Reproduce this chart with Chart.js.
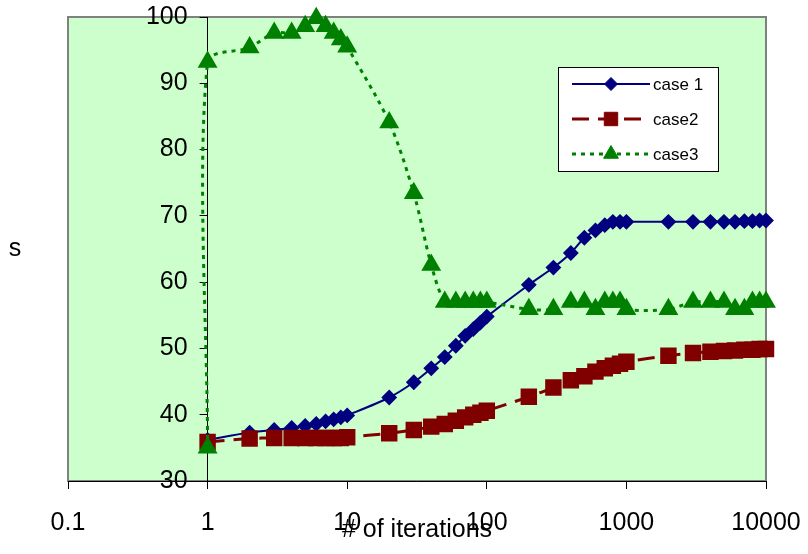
<!DOCTYPE html>
<html>
<head>
<meta charset="utf-8">
<script src="https://cdn.jsdelivr.net/npm/chart.js@4/dist/chart.umd.min.js"></script>
<style>
  html, body { margin: 0; padding: 0; background: #fff; }
</style>
</head>
<body>
<canvas id="iterations_chart" width="808" height="554"></canvas>
<script>
// data
const xTicks = [0.1, 1, 10, 100, 1000, 10000];
const yCrossAt = 1;
const xTitle = '# of iterations';
const yTitle = 's';
const seriesNames = ['case 1', 'case2', 'case3'];

const iterations = [1, 2, 3, 4, 5, 6, 7, 8, 9, 10, 20, 30, 40, 50, 60, 70, 80, 90, 100,
  200, 300, 400, 500, 600, 700, 800, 900, 1000, 2000, 3000, 4000, 5000, 6000, 7000, 8000, 9000, 10000];
const case1 = [36.2, 37.3, 37.7, 38.0, 38.3, 38.6, 39.0, 39.3, 39.6, 39.9, 42.6, 44.9, 47.0, 48.7, 50.4, 51.9, 52.9, 53.9, 54.8,
  59.6, 62.2, 64.4, 66.7, 67.8, 68.6, 69.1, 69.1, 69.1, 69.1, 69.1, 69.1, 69.1, 69.1, 69.2, 69.2, 69.3, 69.3];
const case2 = [35.9, 36.4, 36.5, 36.5, 36.5, 36.5, 36.5, 36.5, 36.5, 36.6, 37.2, 37.7, 38.2, 38.6, 39.1, 39.6, 40.0, 40.3, 40.6,
  42.7, 44.1, 45.2, 45.8, 46.5, 47.0, 47.4, 47.7, 48.0, 48.9, 49.3, 49.5, 49.6, 49.7, 49.8, 49.8, 49.9, 49.9];

const iterations3 = [1, 1, 2, 3, 4, 5, 6, 7, 8, 9, 10, 20, 30, 40, 50, 60, 70, 80, 90, 100,
  200, 300, 400, 500, 600, 700, 800, 900, 1000, 2000, 3000, 4000, 5000, 6000, 7000, 8000, 9000, 10000];
const case3 = [35.0, 93.2, 95.4, 97.6, 97.6, 98.6, 99.8, 98.6, 97.6, 96.6, 95.5, 84.1, 73.4, 62.6, 57.0, 57.0, 57.0, 57.0, 57.0, 57.0,
  55.9, 55.9, 57.0, 57.0, 55.9, 57.0, 57.0, 57.0, 55.9, 55.9, 57.0, 57.0, 57.0, 55.9, 55.9, 57.0, 57.0, 57.0];

const FONT = '"Liberation Sans", Arial, sans-serif';
Chart.defaults.font.family = FONT;
Chart.defaults.color = '#000';

const toPoints = (xs, ys) => xs.map((x, i) => ({x: x, y: ys[i]}));

// green plot area with grey frame
const plotBg = {
  id: 'plotBg',
  beforeDraw(chart) {
    const {ctx, chartArea: a} = chart;
    ctx.save();
    ctx.fillStyle = '#ccffcc';
    ctx.fillRect(a.left, a.top, a.width, a.height);
    ctx.strokeStyle = '#808080';
    ctx.lineWidth = 2;
    ctx.strokeRect(a.left, a.top, a.width, a.height);
    ctx.restore();
  }
};

// the y axis crosses the x axis at x = 1
const yAxisAtOne = {
  id: 'yAxisAtOne',
  afterLayout(chart) {
    const px = chart.scales.x.getPixelForValue(yCrossAt);
    chart.scales.y.left = 0;
    chart.scales.y.right = px;
  }
};

// boxed legend inside the plot area + y title
const legendBox = {
  id: 'legendBox',
  afterDraw(chart) {
    const {ctx, chartArea: a} = chart;
    const bx = a.right - 208, by = a.top + 50, bw = 160, bh = 104;
    ctx.save();
    ctx.fillStyle = '#fff';
    ctx.fillRect(bx, by, bw, bh);
    ctx.strokeStyle = '#000';
    ctx.lineWidth = 1;
    ctx.strokeRect(bx + 0.5, by + 0.5, bw, bh);
    chart.data.datasets.forEach((ds, i) => {
      const y = by + 17 + i * 35;
      ctx.strokeStyle = ds.borderColor;
      ctx.lineWidth = ds.borderWidth;
      ctx.setLineDash(ds.borderDash || []);
      ctx.beginPath();
      ctx.moveTo(bx + 14, y);
      ctx.lineTo(bx + 92, y);
      ctx.stroke();
      ctx.setLineDash([]);
      ctx.fillStyle = ds.backgroundColor;
      ctx.lineWidth = 1;
      Chart.helpers.drawPoint(ctx, {pointStyle: ds.pointStyle, radius: ds.pointRadius, borderWidth: 1, rotation: 0}, bx + 53, y);
      ctx.fillStyle = '#000';
      ctx.font = '17px ' + FONT;
      ctx.textBaseline = 'middle';
      ctx.textAlign = 'left';
      ctx.fillText(ds.label, bx + 95, y + 1);
    });
    ctx.font = '25px ' + FONT;
    ctx.textAlign = 'center';
    ctx.textBaseline = 'middle';
    ctx.fillStyle = '#000';
    ctx.fillText(yTitle, 15, (a.top + a.bottom) / 2);
    ctx.restore();
  }
};

const ctxEl = document.getElementById('iterations_chart');

new Chart(ctxEl, {
  type: 'line',
  data: {
    datasets: [{
      label: seriesNames[0],
      data: toPoints(iterations, case1),
      borderColor: '#000080',
      backgroundColor: '#000080',
      borderWidth: 2,
      pointStyle: 'rectRot',
      pointRadius: 6.5,
      tension: 0.3,
      clip: false,
      order: 2
    }, {
      label: seriesNames[1],
      data: toPoints(iterations, case2),
      borderColor: '#800000',
      backgroundColor: '#800000',
      borderWidth: 3,
      borderDash: [17, 9],
      pointStyle: 'rect',
      pointRadius: 9.5,
      tension: 0.3,
      clip: false,
      order: 1
    }, {
      label: seriesNames[2],
      data: toPoints(iterations3, case3),
      borderColor: '#008000',
      backgroundColor: '#008000',
      borderWidth: 3,
      borderDash: [4, 5],
      pointStyle: 'triangle',
      pointRadius: 8.5,
      tension: 0.3,
      clip: false,
      order: 0
    }]
  },
  options: {
    responsive: false,
    devicePixelRatio: 1,
    animation: false,
    layout: {
      padding: {left: 68, right: 42, top: 17, bottom: 9}
    },
    plugins: {
      legend: {display: false},
      tooltip: {enabled: false}
    },
    scales: {
      x: {
        type: 'logarithmic',
        min: 0.1,
        max: 10000,
        afterBuildTicks: s => { s.ticks = xTicks.map(v => ({value: v})); },
        afterFit: s => { s.paddingLeft = 0; s.paddingRight = 0; },
        ticks: {
          callback: v => String(v),
          font: {size: 25},
          color: '#000',
          padding: 19,
          autoSkip: false,
          maxRotation: 0
        },
        grid: {drawOnChartArea: false, tickLength: 8, color: '#000'},
        border: {color: '#000', width: 1},
        title: {
          display: true,
          text: xTitle,
          font: {size: 25},
          color: '#000',
          padding: {top: -42, bottom: 0}
        }
      },
      y: {
        min: 30,
        max: 100,
        ticks: {stepSize: 10, font: {size: 25}, color: '#000', padding: 12},
        grid: {drawOnChartArea: false, tickLength: 8, color: '#000'},
        border: {color: '#000', width: 1},
        afterFit: s => { s.width = 0; s.paddingTop = 0; s.paddingBottom = 0; }
      }
    }
  },
  plugins: [plotBg, yAxisAtOne, legendBox]
});
</script>
</body>
</html>
